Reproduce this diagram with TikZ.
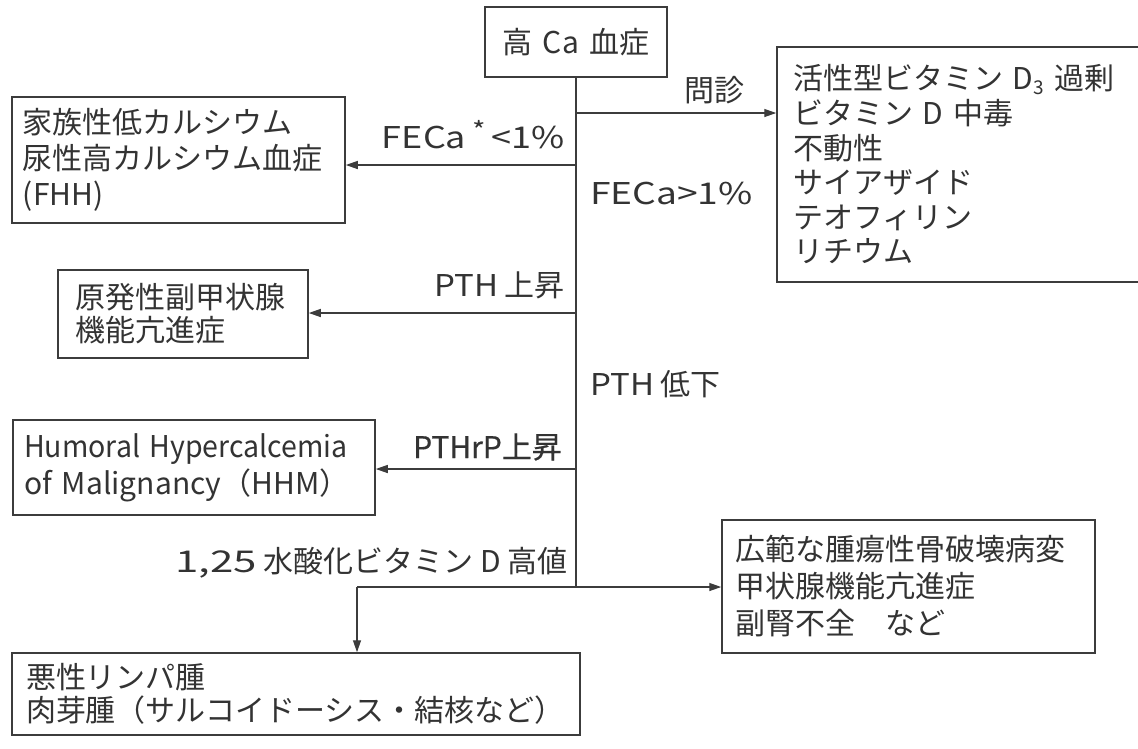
\documentclass[tikz,border=0pt]{standalone}
\usepackage{fontspec}
\usepackage{graphicx}
\setmainfont{Noto Sans CJK JP}
\newfontfamily\heavier[FakeBold=0.6]{Noto Sans CJK JP}
\usetikzlibrary{arrows.meta}
\definecolor{lc}{HTML}{3C3C3C}
\definecolor{tc}{HTML}{333333}
\newcommand{\subthree}{\raisebox{-0.14em}{\fontsize{19}{19}\selectfont 3}}
\newcommand{\supstar}{\,\raisebox{0.30em}{\fontsize{24}{24}\selectfont *}\,}
\newcommand{\wide}[2]{\scalebox{#1}[1]{#2}}
\begin{document}
\begin{tikzpicture}[x=1pt,y=-1pt,
  box/.style={draw=lc, line width=1.5pt, inner ysep=0pt, text=tc, align=left},
  lbl/.style={inner sep=0pt, text=tc, font=\fontsize{30}{34}\selectfont},
  conn/.style={draw=lc, line width=1.3pt},
  arr/.style={conn, -{Triangle[length=12pt,width=8pt]}}
]
\useasboundingbox (0,0) rectangle (1138,748);

% boxes
\node[box, align=center, minimum height=70pt, text width=160pt, inner xsep=11pt,
      font=\fontsize{30}{34}\selectfont] (top) at (576,42) {高 Ca 血症};

\node[box, minimum height=235pt, text width=336pt, inner xsep=16pt,
      font=\fontsize{30}{34.6}\selectfont] (rb1) at (961,164.5)
  {活性型ビタミン~D\subthree~過剰\\ビタミン~D~中毒\\不動性\\サイアザイド\\テオフィリン\\リチウム};

\node[box, minimum height=126pt, text width=311pt, inner xsep=11pt,
      font=\fontsize{30}{36}\selectfont] (fhh) at (178.5,160)
  {家族性低カルシウム\\尿性高カルシウム血症\\(FHH)};

\node[box, minimum height=88pt, text width=216pt, inner xsep=17pt,
      font=\fontsize{30}{33}\selectfont] (phpt) at (183,314)
  {原発性副甲状腺\\機能亢進症};

\node[box, minimum height=95pt, text width=340pt, inner xsep=11pt,
      font=\fontsize{30}{37}\selectfont] (hhm) at (194,467.5)
  {\wide{0.95}{Humoral Hypercalcemia}\\\mbox{of Malignancy（HHM）}};

\node[box, minimum height=133pt, text width=347pt, inner xsep=13pt,
      font=\fontsize{30}{37}\selectfont] (rb2) at (908.5,586.5)
  {広範な腫瘍性骨破壊病変\\甲状腺機能亢進症\\副腎不全　など};

\node[box, minimum height=82pt, text width=540pt, inner xsep=14pt,
      font=\fontsize{30}{33}\selectfont] (bot) at (296,694)
  {悪性リンパ腫\\肉芽腫（サルコイドーシス・結核など）};

% junctions on the trunk
\coordinate (j1) at (576,113);
\coordinate (j2) at (576,165);
\coordinate (j3) at (576,313);
\coordinate (j4) at (576,469);
\coordinate (j5) at (576,587);
\coordinate (j6) at (357,587);

% connectors
\draw[conn] (top.south) -- (j5);
\draw[arr] (j1) -- (rb1.west |- j1);
\draw[arr] (j2) -- (fhh.east |- j2);
\draw[arr] (j3) -- (phpt.east |- j3);
\draw[arr] (j4) -- (hhm.east |- j4);
\draw[arr] (j6) -- (rb2.west |- j6);
\draw[arr] (j6) -- (bot.north -| j6);

% labels
\node[lbl] (l0) at (714,90) {問診};
\node[lbl, anchor=east] (l1) at (565,135) {\wide{1.2}{FECa\supstar<1\%}};
\node[lbl, anchor=west] (l2) at (590,193) {\wide{1.24}{FECa>1\%}};
\node[lbl, anchor=east] (l3) at (565,285) {\wide{1.1}{PTH} 上昇};
\node[lbl, anchor=west] (l4) at (590,384) {\wide{1.1}{PTH} 低下};
\node[lbl, anchor=east, font=\heavier\fontsize{30}{34}\selectfont] (l5) at (562,447) {PTHrP上昇};
\node[lbl, anchor=east] (l6) at (568,563) {\wide{1.4}{1,25} 水酸化ビタミン D 高値};
\end{tikzpicture}
\end{document}
